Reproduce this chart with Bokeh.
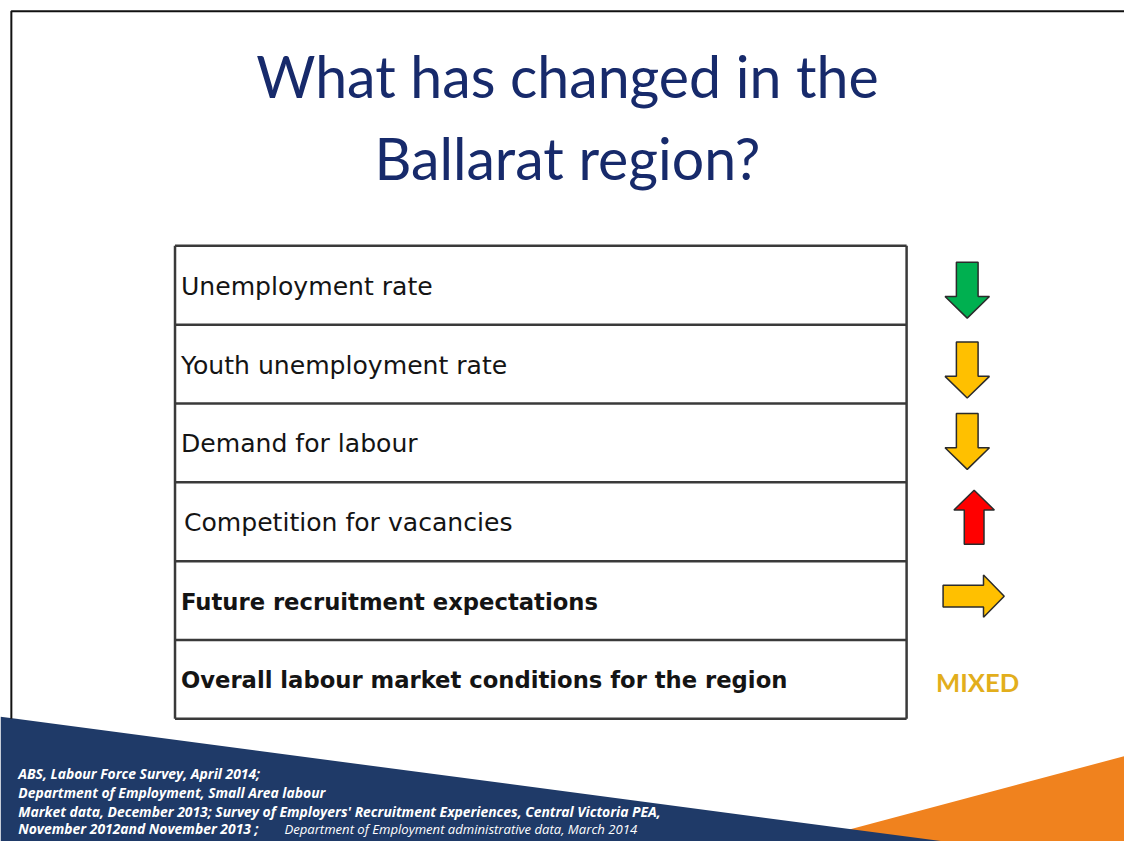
from bokeh.plotting import figure
from bokeh.models import Range1d
from bokeh.core.properties import value
from bokeh.embed import file_html
from bokeh.resources import INLINE

# ---------------- data ----------------
title_lines = ["What has changed in the", "Ballarat region?"]
indicators = [
    "Unemployment  rate",
    "Youth unemployment  rate",
    "Demand for labour",
    "Competition for vacancies",
    "Future recruitment expectations",
    "Overall labour market conditions  for the region",
]
bold_rows = [False, False, False, False, True, True]
directions = ["down", "down", "down", "up", "right", None]
arrow_colors = ["#00B050", "#FFC000", "#FFC000", "#FF0000", "#FFC000", None]
overall_label = "MIXED"
source_lines = [
    "ABS, Labour Force Survey, April 2014;",
    "Department of Employment, Small Area labour",
    "Market data, December 2013; Survey of Employers' Recruitment Experiences, Central Victoria PEA,",
    "November 2012and November 2013 ;",
]
source_tail = "Department of Employment administrative data, March 2014"

# ---------------- layout ----------------
W, H = 1124, 841
SW, SH = 1140, 857          # slide coordinate space
S = W / SW                  # font scale


def fs(px):
    return "%.1fpx" % (px * S)


p = figure(width=W, height=H, x_range=Range1d(0, SW), y_range=Range1d(SH, 0),
           output_backend="svg", toolbar_location=None, min_border=0,
           background_fill_color="white", border_fill_color="white")
p.axis.visible = False
p.grid.visible = False
p.outline_line_color = None

NAVY = "#1F3A68"
ORANGE = "#F0821E"

# decorative footer shapes
p.patch([860, 1140, 1140, 860], [845, 770, 860, 860], color=ORANGE, line_color=None)
p.patch([0, 12, 965, 0], [730, 731.5, 858, 858], color=NAVY, line_color=None)

# slide border
p.line([11, 11, 1140], [732, 11, 11], line_color="#111111", line_width=2)

# title
title_font = value("Lato")
p.text(x=[575, 575], y=[77, 161], text=title_lines, text_align="center", text_baseline="middle",
       text_font=title_font, text_font_size=fs(58), text_color="#172A6B")

# table
tx0, tx1 = 177, 919
ty0, row_h = 250, 80.33
n = len(indicators)
ys_lines = [ty0 + i * row_h for i in range(n + 1)]
for yy in ys_lines:
    p.line([tx0, tx1], [yy, yy], line_color="#3A3A3A", line_width=2.5)
p.line([tx0, tx0], [ys_lines[0], ys_lines[-1]], line_color="#3A3A3A", line_width=2.5)
p.line([tx1, tx1], [ys_lines[0], ys_lines[-1]], line_color="#3A3A3A", line_width=2.5)

centers = [ty0 + (i + 0.5) * row_h for i in range(n)]
text_x = [183, 183, 183, 186, 183, 183]
for i, (lab, b) in enumerate(zip(indicators, bold_rows)):
    p.text(x=[text_x[i]], y=[centers[i] + 1], text=[lab], text_align="left", text_baseline="middle",
           text_font=value("DejaVu Sans"), text_font_size=fs(23) if b else fs(25.5),
           text_font_style="bold" if b else "normal", text_color="#141414")

# arrows
arrow_offsets = [5, 6, -1.5, -4.5, -4.5, 0]


def arrow(direction, cx, cy):
    if direction == "down":
        L, sw, hw, hl = 57, 22, 45, 22
        xs = [cx - sw / 2, cx + sw / 2, cx + sw / 2, cx + hw / 2, cx, cx - hw / 2, cx - sw / 2]
        ys = [cy - L / 2, cy - L / 2, cy + L / 2 - hl, cy + L / 2 - hl, cy + L / 2, cy + L / 2 - hl, cy + L / 2 - hl]
    elif direction == "up":
        L, sw, hw, hl = 55, 20, 41, 20
        xs = [cx - sw / 2, cx + sw / 2, cx + sw / 2, cx + hw / 2, cx, cx - hw / 2, cx - sw / 2]
        ys = [cy + L / 2, cy + L / 2, cy - L / 2 + hl, cy - L / 2 + hl, cy - L / 2, cy - L / 2 + hl, cy - L / 2 + hl]
    else:
        L, sw, hw, hl = 62, 22, 43, 21
        ys = [cy - sw / 2, cy + sw / 2, cy + sw / 2, cy + hw / 2, cy, cy - hw / 2, cy - sw / 2]
        xs = [cx - L / 2, cx - L / 2, cx + L / 2 - hl, cx + L / 2 - hl, cx + L / 2, cx + L / 2 - hl, cx + L / 2 - hl]
    return xs, ys


arrow_x = {"down": 980.5, "up": 987.5, "right": 987}
axs, ays, acol = [], [], []
for i, (d, c) in enumerate(zip(directions, arrow_colors)):
    if d is None:
        continue
    xs, ys = arrow(d, arrow_x[d], centers[i] + arrow_offsets[i])
    axs.append(xs)
    ays.append(ys)
    acol.append(c)
p.patches(axs, ays, fill_color=acol, line_color="#2B2B2B", line_width=1.5)

p.text(x=[991], y=[694], text=[overall_label], text_align="center", text_baseline="middle",
       text_font=value("Lato"), text_font_size=fs(26), text_font_style="bold", text_color="#E2AE1C")

# sources
src_y = [788, 807, 826, 844]
for yy, s in zip(src_y, source_lines):
    p.text(x=[18], y=[yy], text=[s], text_align="left", text_baseline="middle",
           text_font=value("Open Sans"), text_font_size=fs(14.1), text_font_style="bold italic",
           text_color="white")
p.text(x=[288], y=[src_y[3]], text=[source_tail], text_align="left", text_baseline="middle",
       text_font=value("Open Sans"), text_font_size=fs(13.3), text_font_style="italic",
       text_color="white")

open("out.html", "w").write(file_html(p, INLINE))
